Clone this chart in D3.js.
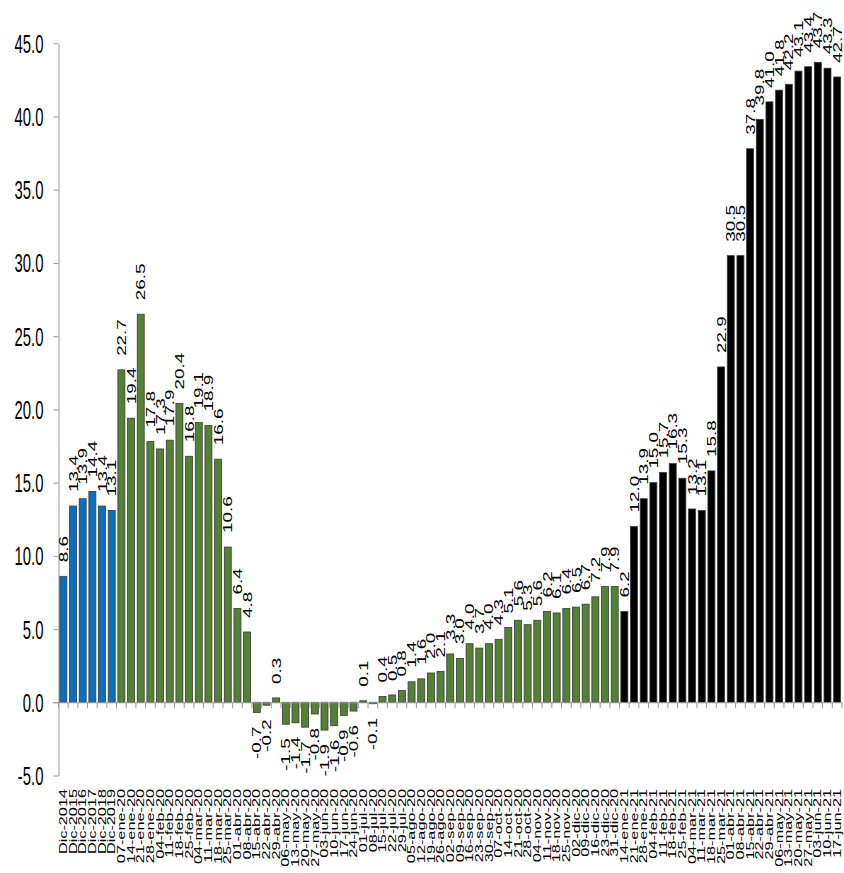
<!DOCTYPE html>
<html>
<head>
<meta charset="utf-8">
<script src="https://cdn.jsdelivr.net/npm/d3@7"></script>
<style>
  html, body { margin: 0; padding: 0; background: #fff; }
  svg { display: block; }
</style>
</head>
<body>
<svg id="chart" width="844" height="873"></svg>
<script>
// Annual December values
const yearCats = ["Dic-2014", "Dic-2015", "Dic-2016", "Dic-2017", "Dic-2018", "Dic-2019"];
const yearVals = [8.6, 13.4, 13.9, 14.4, 13.4, 13.1];

// Weekly values, 2020
const weeks2020 = [
  "07-ene-20", "14-ene-20", "21-ene-20", "28-ene-20",
  "04-feb-20", "11-feb-20", "18-feb-20", "25-feb-20",
  "04-mar-20", "11-mar-20", "18-mar-20", "25-mar-20",
  "01-abr-20", "08-abr-20", "15-abr-20", "22-abr-20", "29-abr-20",
  "06-may-20", "13-may-20", "20-may-20", "27-may-20",
  "03-jun-20", "10-jun-20", "17-jun-20", "24-jun-20",
  "01-jul-20", "08-jul-20", "15-jul-20", "22-jul-20", "29-jul-20",
  "05-ago-20", "12-ago-20", "19-ago-20", "26-ago-20",
  "02-sep-20", "09-sep-20", "16-sep-20", "23-sep-20", "30-sep-20",
  "07-oct-20", "14-oct-20", "21-oct-20", "28-oct-20",
  "04-nov-20", "11-nov-20", "18-nov-20", "25-nov-20",
  "02-dic-20", "09-dic-20", "16-dic-20", "23-dic-20", "31-dic-20"
];
const vals2020 = [
  22.7, 19.4, 26.5, 17.8,
  17.3, 17.9, 20.4, 16.8,
  19.1, 18.9, 16.6, 10.6,
  6.4, 4.8, -0.7, -0.2, 0.3,
  -1.5, -1.4, -1.7, -0.8,
  -1.9, -1.6, -0.9, -0.6,
  0.1, -0.1, 0.4, 0.5, 0.8,
  1.4, 1.6, 2.0, 2.1,
  3.3, 3.0, 4.0, 3.7, 4.0,
  4.3, 5.1, 5.6, 5.3,
  5.6, 6.2, 6.1, 6.4,
  6.5, 6.7, 7.2, 7.9, 7.9
];

// Weekly values, 2021
const weeks2021 = [
  "14-ene-21", "21-ene-21", "28-ene-21",
  "04-feb-21", "11-feb-21", "18-feb-21", "25-feb-21",
  "04-mar-21", "11-mar-21", "18-mar-21", "25-mar-21",
  "01-abr-21", "08-abr-21", "15-abr-21", "22-abr-21", "29-abr-21",
  "06-may-21", "13-may-21", "20-may-21", "27-may-21",
  "03-jun-21", "10-jun-21", "17-jun-21"
];
const vals2021 = [
  6.2, 12.0, 13.9,
  15.0, 15.7, 16.3, 15.3,
  13.2, 13.1, 15.8, 22.9,
  30.5, 30.5, 37.8, 39.8, 41.0,
  41.8, 42.2, 43.1, 43.4,
  43.7, 43.3, 42.7
];

const yTicks = [-5, 0, 5, 10, 15, 20, 25, 30, 35, 40, 45];

const groupColors = { year: "#0B6FBF", w2020: "#548235", w2021: "#000000" };

const rows = [
  ...yearCats.map((c, i) => ({ cat: c, value: yearVals[i], group: "year" })),
  ...weeks2020.map((c, i) => ({ cat: c, value: vals2020[i], group: "w2020" })),
  ...weeks2021.map((c, i) => ({ cat: c, value: vals2021[i], group: "w2021" }))
];

// One decimal, plain hyphen for negatives
const fmt1 = d3.format(".1f");
const fmt = v => fmt1(v).replace("\u2212", "-");

const svg = d3.select("#chart");
const axisX = 58.5, rightX = 842;

const x = d3.scaleBand()
  .domain(rows.map(d => d.cat))
  .range([axisX, rightX])
  .paddingInner(0.28)
  .paddingOuter(0.14);

const y = d3.scaleLinear().domain([-5, 45]).range([775.5, 43.3]);

const axisColor = "#9a9a9a";

// Vertical value axis
const yAxis = svg.append("g")
  .attr("transform", `translate(${axisX},0)`)
  .call(d3.axisLeft(y).tickValues(yTicks).tickFormat(fmt).tickSize(5).tickSizeOuter(0));
yAxis.select(".domain").attr("stroke", axisColor);
yAxis.selectAll(".tick line").attr("stroke", axisColor);
yAxis.selectAll(".tick text")
  .attr("x", null)
  .attr("transform", "translate(-15,0) scale(0.93,1.6)")
  .attr("dy", "0.35em")
  .attr("fill", "#000")
  .style("font-family", "'Liberation Sans', Arial, sans-serif")
  .style("font-size", "16px");

// Bars
svg.append("g").selectAll("rect")
  .data(rows)
  .join("rect")
  .attr("x", d => x(d.cat))
  .attr("width", x.bandwidth())
  .attr("y", d => y(Math.max(0, d.value)))
  .attr("height", d => Math.abs(y(d.value) - y(0)))
  .attr("fill", d => groupColors[d.group])
  .attr("stroke", "#3a3a3a")
  .attr("stroke-width", 0.8);

// Horizontal category axis at zero, ticks between categories
const xAxis = svg.append("g")
  .attr("transform", `translate(0,${y(0)})`)
  .call(d3.axisBottom(x).tickSize(0).tickFormat(""));
xAxis.select(".domain").attr("stroke", axisColor).attr("d", `M${axisX - 6},0.5H${rightX}`);
const step = x.step();
const boundaries = d3.range(rows.length + 1).map(i => axisX + i * step);
xAxis.selectAll(".sep")
  .data(boundaries)
  .join("line")
  .attr("class", "sep")
  .attr("x1", d => d).attr("x2", d => d)
  .attr("y1", 0).attr("y2", 6)
  .attr("stroke", axisColor);

// Value labels, rotated
svg.append("g").selectAll("text")
  .data(rows)
  .join("text")
  .attr("transform", d => {
    const cx = x(d.cat) + x.bandwidth() / 2;
    const yy = d.value >= 0 ? y(d.value) - 14 : y(d.value) + 14;
    return `translate(${cx},${yy}) rotate(-90) scale(1.45,1)`;
  })
  .attr("text-anchor", d => d.value >= 0 ? "start" : "end")
  .attr("dy", "0.35em")
  .style("font-family", "'Liberation Sans', Arial, sans-serif")
  .style("font-size", "13px")
  .attr("fill", "#000")
  .text(d => fmt(d.value));

// Category labels
svg.append("g").selectAll("text")
  .data(rows)
  .join("text")
  .attr("transform", d => `translate(${x(d.cat) + x.bandwidth() / 2},789) rotate(-90) scale(1.55,1)`)
  .attr("text-anchor", "end")
  .attr("dy", "0.35em")
  .style("font-family", "'Liberation Sans', Arial, sans-serif")
  .style("font-size", "10.5px")
  .attr("fill", "#000")
  .text(d => d.cat);
</script>
</body>
</html>
